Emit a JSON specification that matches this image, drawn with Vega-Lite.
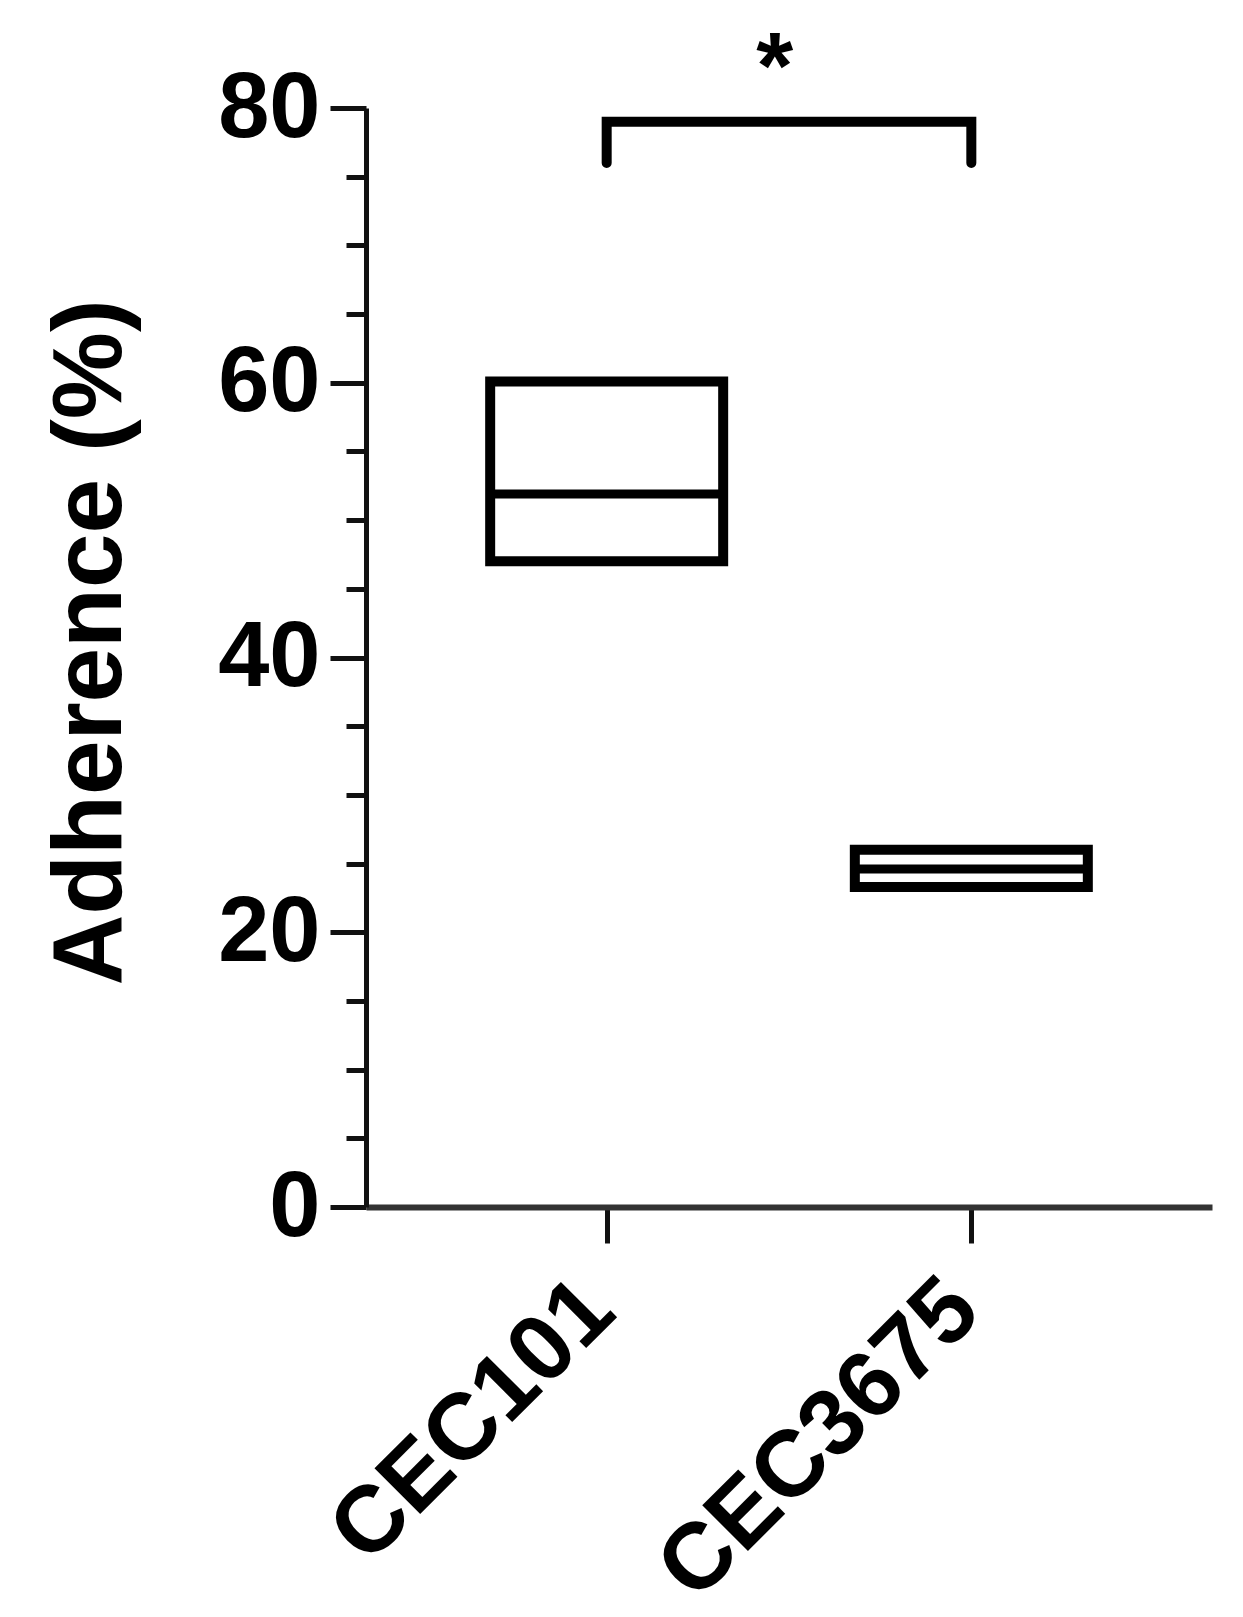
{
  "$schema": "https://vega.github.io/schema/vega-lite/v6.json",
  "autosize": {"type": "none"},
  "width": 846,
  "height": 1099,
  "padding": {"left": 366, "top": 108, "right": 31, "bottom": 410},
  "background": "white",
  "config": {
    "view": {"stroke": null},
    "font": "Liberation Sans",
    "axis": {"grid": false, "domainColor": "#111", "tickColor": "#111", "labelColor": "#000", "titleColor": "#000"}
  },
  "datasets": {
    "boxes": [
      {"strain": "CEC101", "q1": 47.0, "median": 51.9, "q3": 60.1},
      {"strain": "CEC3675", "q1": 23.3, "median": 24.6, "q3": 26.0}
    ],
    "bracket": [
      {"strain": "CEC101", "y": 76.0, "order": 1},
      {"strain": "CEC101", "y": 79.0, "order": 2},
      {"strain": "CEC3675", "y": 79.0, "order": 3},
      {"strain": "CEC3675", "y": 76.0, "order": 4}
    ],
    "star": [{"strain": "CEC101", "y": 80.7, "label": "*"}]
  },
  "layer": [
    {
      "data": {"name": "boxes"},
      "mark": {"type": "bar", "width": 233, "fill": "white", "stroke": "black", "strokeWidth": 10},
      "encoding": {
        "x": {
          "field": "strain", "type": "nominal",
          "scale": {"type": "point", "padding": 0.66, "domain": ["CEC101", "CEC3675"]},
          "axis": {
            "title": null, "labelAngle": -45, "labelAlign": "right", "labelBaseline": "middle",
            "labelFontSize": 94, "labelFontWeight": "bold", "labelPadding": 52, "labelOffset": -8, "labelLimit": 0,
            "tickSize": 36, "tickWidth": 5, "domainWidth": 6, "domainColor": "#333"
          }
        },
        "y": {
          "field": "q1", "type": "quantitative",
          "scale": {"domain": [0, 80], "nice": false, "zero": true},
          "axis": {
            "orient": "left", "values": [0, 20, 40, 60, 80], "title": "Adherence (%)",
            "titleFontSize": 98, "titleFontWeight": "bold", "titlePadding": 76, "titleY": 534,
            "labelFontSize": 92, "labelFontWeight": "bold", "labelPadding": 10,
            "tickSize": 36, "tickWidth": 5, "domainWidth": 5
          }
        },
        "y2": {"field": "q3"}
      }
    },
    {
      "data": {"name": "boxes"},
      "mark": {"type": "tick", "size": 238, "thickness": 9, "color": "black", "opacity": 1},
      "encoding": {
        "x": {"field": "strain", "type": "nominal"},
        "y": {
          "field": "median", "type": "quantitative",
          "axis": {
            "orient": "left", "values": [5, 10, 15, 25, 30, 35, 45, 50, 55, 65, 70, 75],
            "labels": false, "domain": false, "title": null, "tickSize": 20, "tickWidth": 5
          }
        }
      }
    },
    {
      "data": {"name": "bracket"},
      "mark": {"type": "line", "color": "black", "strokeWidth": 10, "strokeJoin": "miter", "strokeCap": "round"},
      "encoding": {
        "x": {"field": "strain", "type": "nominal"},
        "y": {"field": "y", "type": "quantitative", "axis": null},
        "order": {"field": "order"}
      }
    },
    {
      "data": {"name": "star"},
      "mark": {"type": "text", "fontSize": 95, "fontWeight": "bold", "baseline": "alphabetic", "align": "center", "dx": 168, "clip": false, "color": "black"},
      "encoding": {
        "x": {"field": "strain", "type": "nominal"},
        "y": {"field": "y", "type": "quantitative", "axis": null},
        "text": {"field": "label"}
      }
    }
  ],
  "resolve": {"axis": {"y": "independent"}}
}
